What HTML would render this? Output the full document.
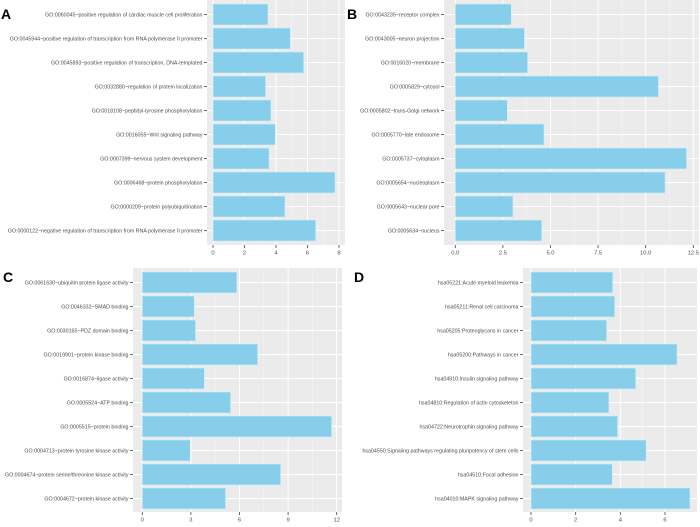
<!DOCTYPE html>
<html><head><meta charset="utf-8"><style>
html,body{margin:0;padding:0;background:#fff;width:700px;height:527px;overflow:hidden}
svg{display:block;font-family:"Liberation Sans",sans-serif}
</style></head><body>
<svg id="fig" width="700" height="527"></svg>
<script>
const labelsA=["GO:0060045~positive regulation of cardiac muscle cell proliferation","GO:0045944~positive regulation of transcription from RNA polymerase II promoter","GO:0045893~positive regulation of transcription, DNA-templated","GO:0032880~regulation of protein localization","GO:0018108~peptidyl-tyrosine phosphorylation","GO:0016055~Wnt signaling pathway","GO:0007399~nervous system development","GO:0006468~protein phosphorylation","GO:0000209~protein polyubiquitination","GO:0000122~negative regulation of transcription from RNA polymerase II promoter"];
const valuesA=[3.49,4.91,5.76,3.34,3.68,3.96,3.56,7.75,4.57,6.52];
const ticksA=[0,2,4,6,8];
const labelsB=["GO:0043235~receptor complex","GO:0043005~neuron projection","GO:0016020~membrane","GO:0005829~cytosol","GO:0005802~trans-Golgi network","GO:0005770~late endosome","GO:0005737~cytoplasm","GO:0005654~nucleoplasm","GO:0005643~nuclear pore","GO:0005634~nucleus"];
const valuesB=[2.94,3.63,3.80,10.67,2.73,4.66,12.15,11.02,3.03,4.54];
const ticksB=[0,2.5,5,7.5,10,12.5];
const tickLabelsB=["0.0","2.5","5.0","7.5","10.0","12.5"];
const labelsC=["GO:0061630~ubiquitin protein ligase activity","GO:0046332~SMAD binding","GO:0030165~PDZ domain binding","GO:0019901~protein kinase binding","GO:0016874~ligase activity","GO:0005524~ATP binding","GO:0005515~protein binding","GO:0004713~protein tyrosine kinase activity","GO:0004674~protein serine/threonine kinase activity","GO:0004672~protein kinase activity"];
const valuesC=[5.84,3.21,3.29,7.12,3.83,5.45,11.69,2.96,8.54,5.14];
const ticksC=[0,3,6,9,12];
const labelsD=["hsa05221:Acute myeloid leukemia","hsa05211:Renal cell carcinoma","hsa05205:Proteoglycans in cancer","hsa05200:Pathways in cancer","hsa04910:Insulin signaling pathway","hsa04810:Regulation of actin cytoskeleton","hsa04722:Neurotrophin signaling pathway","hsa04550:Signaling pathways regulating pluripotency of stem cells","hsa04510:Focal adhesion","hsa04010:MAPK signaling pathway"];
const valuesD=[3.66,3.75,3.39,6.54,4.69,3.49,3.88,5.16,3.64,7.12];
const ticksD=[0,2,4,6];

const NS="http://www.w3.org/2000/svg";
const svg=document.getElementById('fig');
function mk(tag,attrs,parent){const e=document.createElementNS(NS,tag);for(const k in attrs)e.setAttribute(k,attrs[k]);(parent||svg).appendChild(e);return e;}

function panel(id,letter,labels,values,ticks,tickLabels,geo){
  const g=mk('g',{});
  
  
  const x=v=>geo.x0+v*geo.scale;
  const bg=mk('rect',{x:geo.left,y:geo.top,width:geo.right-geo.left,height:geo.bottom-geo.top,fill:'#ebebeb'},g);
  
  
  for(let i=0;i<ticks.length-1;i++){
    const m=(ticks[i]+ticks[i+1])/2;
    mk('line',{x1:x(m),x2:x(m),y1:geo.top,y2:geo.bottom,stroke:'#f5f5f5','stroke-width':0.6},g);
  }
  ticks.forEach(t=>{mk('line',{x1:x(t),x2:x(t),y1:geo.top,y2:geo.bottom,stroke:'#fff','stroke-width':1},g);});
  labels.forEach((l,i)=>{
    const cy=geo.firstY+i*geo.pitch;
    mk('line',{x1:geo.left,x2:geo.right,y1:cy,y2:cy,stroke:'#fff','stroke-width':1},g);
  });
  labels.forEach((l,i)=>{
    const cy=geo.firstY+i*geo.pitch;
    const b=mk('rect',{x:x(0),y:cy-10.5,width:Math.max(0,x(values[i])-x(0)),height:21,fill:'#87ceeb',stroke:'#d6eef8','stroke-width':0.6},g);
    
    
    mk('line',{x1:geo.left-3,x2:geo.left,y1:cy,y2:cy,stroke:'#444','stroke-width':0.8},g);
    const t=mk('text',{x:geo.left-4.5,y:cy+2,'text-anchor':'end','font-size':5.3,fill:'#4d4d4d'},g);
    t.textContent=l;
    
    
  });
  ticks.forEach((tv,i)=>{
    mk('line',{x1:x(tv),x2:x(tv),y1:geo.bottom,y2:geo.bottom+3,stroke:'#444','stroke-width':0.8},g);
    const t=mk('text',{x:x(tv),y:geo.bottom+9.5,'text-anchor':'middle','font-size':5.8,fill:'#4d4d4d'},g);
    t.textContent=tickLabels?tickLabels[i]:String(tv);
    
    
  });
  const L=mk('text',{x:geo.lx,y:geo.ly,'font-size':14,'font-weight':'bold',fill:'#000'},g);
  L.textContent=letter;
  
  
}
panel('a','A',labelsA,valuesA,ticksA,null,{left:207,right:345,top:0,bottom:245,x0:213,scale:15.75,firstY:14.5,pitch:24,lx:1,ly:19});
panel('b','B',labelsB,valuesB,ticksB,tickLabelsB,{left:444,right:699,top:0,bottom:245,x0:455.3,scale:19.04,firstY:14.5,pitch:24,lx:347,ly:19});
panel('c','C',labelsC,valuesC,ticksC,null,{left:133,right:342,top:268,bottom:512,x0:142.3,scale:16.2,firstY:282.5,pitch:24,lx:3,ly:282});
panel('d','D',labelsD,valuesD,ticksD,null,{left:523,right:697,top:268,bottom:512,x0:531,scale:22.33,firstY:282.5,pitch:24,lx:354,ly:282});
</script>
</body></html>
